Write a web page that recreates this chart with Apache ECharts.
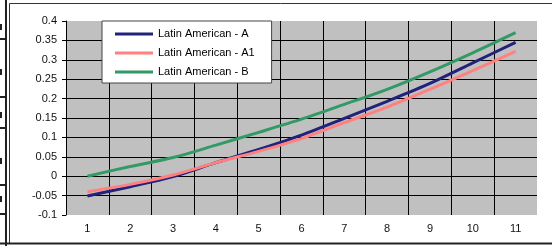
<!DOCTYPE html>
<html>
<head>
<meta charset="utf-8">
<script src="https://cdn.jsdelivr.net/npm/echarts@6/dist/echarts.min.js"></script>
<style>
  html, body { margin: 0; padding: 0; background: #fff; }
  #chart { width: 552px; height: 246px; }
</style>
</head>
<body>
<div id="chart"></div>
<script>
// data
const categories = ['1', '2', '3', '4', '5', '6', '7', '8', '9', '10', '11']
const seriesNames = ['Latin American - A', 'Latin American - A1', 'Latin American - B']
const latinA = [-0.051, -0.027, -0.001, 0.035, 0.069, 0.106, 0.149, 0.193, 0.239, 0.292, 0.345]
const latinA1 = [-0.040, -0.021, 0.003, 0.035, 0.064, 0.097, 0.138, 0.178, 0.224, 0.272, 0.322]
const latinB = [0.000, 0.025, 0.048, 0.080, 0.113, 0.147, 0.185, 0.224, 0.269, 0.318, 0.370]
const colors = ['#22227a', '#ff8080', '#339966']

const chart = echarts.init(document.getElementById('chart'))
const font = 'Liberation Sans, Arial, sans-serif'

function makeSeries(name, data, color) {
  return {
    name,
    type: 'line',
    data,
    smooth: 0.3,
    showSymbol: false,
    lineStyle: { width: 3, color },
    itemStyle: { color },
  }
}

// frame + cut-off bits of the neighbouring object on the left
const leftTicks = [39, 97, 128, 185, 214]
const leftDots = [27, 72, 115, 161, 199]
const graphics = [
  { type: 'line', shape: { x1: 9.5, y1: 3.5, x2: 552, y2: 3.5 }, style: { stroke: '#333', lineWidth: 1 } },
  { type: 'line', shape: { x1: 9.5, y1: 3.5, x2: 9.5, y2: 243 }, style: { stroke: '#333', lineWidth: 1 } },
  { type: 'line', shape: { x1: 0, y1: 243.5, x2: 552, y2: 243.5 }, style: { stroke: '#222', lineWidth: 2 } },
  { type: 'rect', shape: { x: 5, y: 0, width: 2, height: 246 }, style: { fill: '#222' } },
]
leftTicks.forEach(y => graphics.push({ type: 'rect', shape: { x: 0, y: y - 1, width: 6, height: 2 }, style: { fill: '#222' } }))
leftDots.forEach(y => graphics.push({ type: 'rect', shape: { x: 0, y: y - 3, width: 2, height: 6 }, style: { fill: '#222' } }))

const option = {
  animation: false,
  textStyle: { fontFamily: font },
  graphic: graphics,
  grid: {
    left: 66,
    right: 15,
    top: 21,
    bottom: 31,
    show: true,
    backgroundColor: '#c0c0c0',
    borderWidth: 0,
  },
  legend: {
    data: seriesNames,
    orient: 'vertical',
    left: 102,
    top: 21,
    backgroundColor: '#fff',
    borderColor: '#444',
    borderWidth: 1,
    padding: [6, 17, 4, 13],
    itemWidth: 38,
    itemHeight: 3,
    itemGap: 5,
    icon: 'rect',
    textStyle: { fontSize: 11, color: '#000', lineHeight: 14, fontFamily: font },
  },
  xAxis: {
    type: 'category',
    data: categories,
    boundaryGap: true,
    axisLine: { show: false },
    axisTick: { show: false },
    axisLabel: { fontSize: 11, color: '#111', margin: 8 },
    splitLine: { show: true, interval: 0, showMaxLine: false, lineStyle: { color: '#000', width: 1 } },
  },
  yAxis: {
    type: 'value',
    min: -0.1,
    max: 0.4,
    interval: 0.05,
    axisLine: { show: true, lineStyle: { color: '#000', width: 1 } },
    axisTick: { show: true, inside: false, length: 4, lineStyle: { color: '#000' } },
    axisLabel: { fontSize: 11, color: '#111', margin: 9 },
    splitLine: { show: true, showMinLine: false, showMaxLine: false, lineStyle: { color: '#000', width: 1 } },
  },
  series: [
    makeSeries(seriesNames[0], latinA, colors[0]),
    makeSeries(seriesNames[1], latinA1, colors[1]),
    makeSeries(seriesNames[2], latinB, colors[2]),
  ],
}

chart.setOption(option)
</script>
</body>
</html>
